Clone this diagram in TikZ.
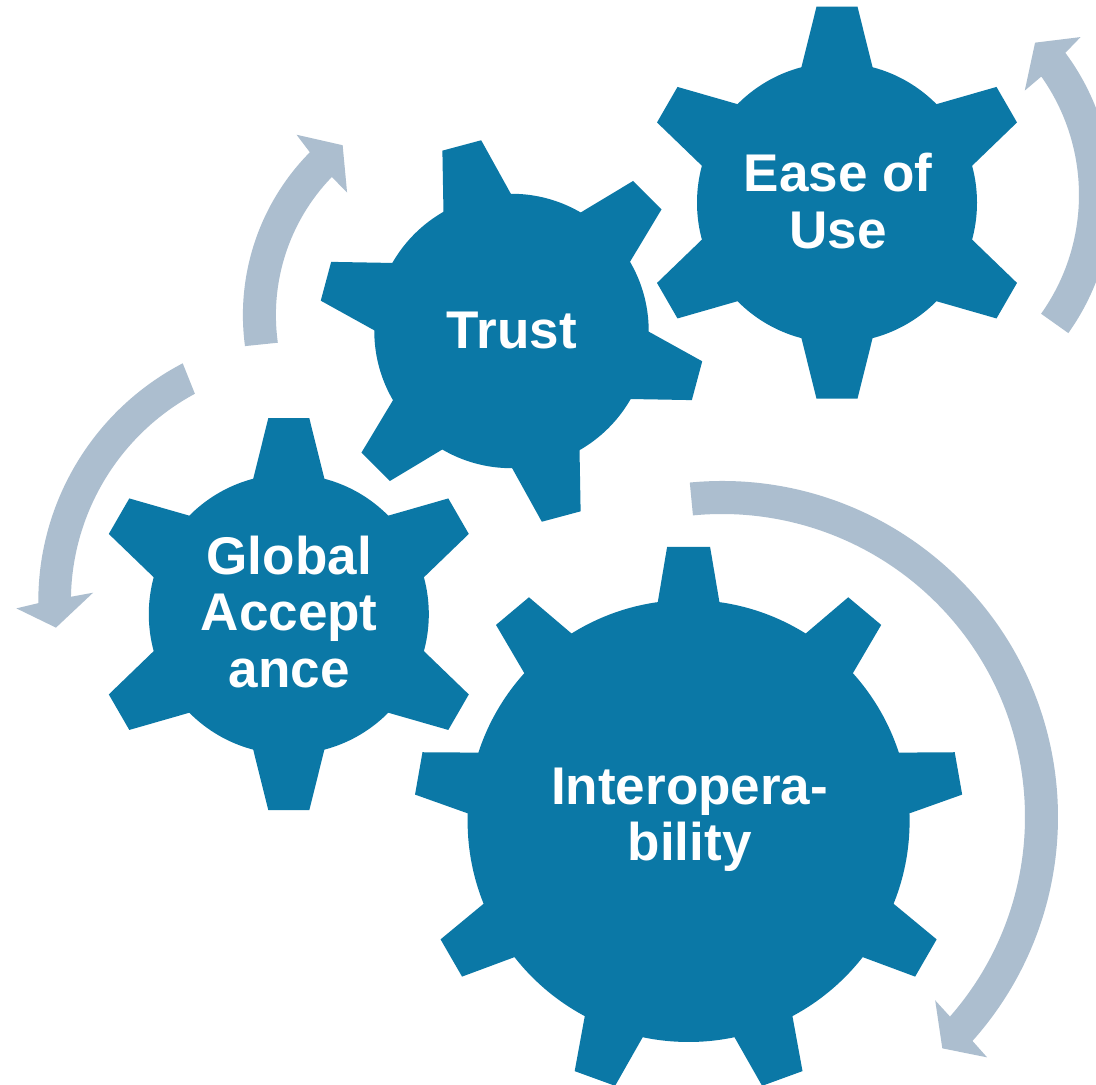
\documentclass[tikz,border=0pt]{standalone}
\usepackage{fontspec}
\setmainfont{Liberation Sans}
\usepackage{tikz}
\usetikzlibrary{calc}
\definecolor{cogblue}{RGB}{11,120,166}
\definecolor{ringgrey}{RGB}{172,190,207}
\tikzset{
  cog/.style={fill=cogblue,draw=none},
  ringarrow/.style={fill=ringgrey,draw=none},
  cogtext/.style={text=white,font=\bfseries\fontsize{30.2}{32.2}\selectfont,
    align=center,anchor=base,inner sep=0pt}
}
\begin{document}
\begin{tikzpicture}[x=0.02cm,y=0.02cm]
    \fill[white] (0,0) rectangle (1096,1085);
    \useasboundingbox (0,0) rectangle (1096,1085);
    \clip (0,0) rectangle (1096,1085);

    % Ease of Use gear
    \begin{scope}[shift={(837,882.3)}]
      \fill[cog] (0,0) circle (140);
      \foreach \a in {30,90,...,330}
        \fill[cog,rotate=\a] (100,-44.4) -- (196,-20.5) -- (196,20.5) -- (100,44.4) -- cycle;
    \end{scope}
    \node[cogtext] (ease) at (838,836.7) {Ease of\\Use};

    % Trust gear
    \begin{scope}[shift={(511.5,754)},scale=0.98]
      \fill[cog] (0,0) circle (140);
      \foreach \a in {45,105,...,345}
        \fill[cog,rotate=\a] (100,-44.4) -- (196,-20.5) -- (196,20.5) -- (100,44.4) -- cycle;
    \end{scope}
    \node[cogtext] (trust) at (511.8,736.7) {Trust};

    % Global Acceptance gear
    \begin{scope}[shift={(288.8,470.8)}]
      \fill[cog] (0,0) circle (140);
      \foreach \a in {30,90,...,330}
        \fill[cog,rotate=\a] (100,-44.4) -- (196,-20.5) -- (196,20.5) -- (100,44.4) -- cycle;
    \end{scope}
    \node[cogtext] (global) at (289.2,397.7) {Global\\Accept\\ance};

    % Interoperability gear
    \begin{scope}[shift={(688.6,264)}]
      \fill[cog] (0,0) circle (221);
      \foreach \a in {10,50,...,330}
        \fill[cog,rotate=\a] (180,-37.4) -- (274,-21.5) -- (274,21.5) -- (180,37.4) -- cycle;
    \end{scope}
    \node[cogtext] (interop) at (689.6,224) {Interopera-\\bility};

    % Arrows round the gears
    \begin{scope}[shift={(874,890)}]
      \fill[ringarrow] (-35.4:238.4) arc[start angle=-35.4,end angle=36.6,radius=238.4]
        -- (37.4:260) -- (43.4:221.7) -- (34.7:183.4)
        -- (35.3:205) arc[start angle=35.3,end angle=-35.4,radius=205] -- cycle;
    \end{scope}
    \begin{scope}[shift={(474.4,769.9)}]
      \fill[ringarrow] (187.7:231.5) arc[start angle=187.7,end angle=135.3,radius=231.5]
        -- (134.6:253.3) -- (127.8:215) -- (136.1:176.7)
        -- (135.9:198.5) arc[start angle=135.9,end angle=188,radius=198.5] -- cycle;
    \end{scope}
    \begin{scope}[shift={(306.6,483.7)}]
      \fill[ringarrow] (117.5:268.3) arc[start angle=117.5,end angle=180.4,radius=268.3]
        -- (181.4:290.3) -- (186:252) -- (177.7:213.7)
        -- (178.9:235.7) arc[start angle=178.9,end angle=118.3,radius=235.7] -- cycle;
    \end{scope}
    \begin{scope}[shift={(722,268)}]
      \fill[ringarrow] (95.5:336) arc[start angle=95.5,end angle=-41.8,radius=336]
        -- (-42.2:357.8) -- (-46.4:319.5) -- (-40.7:281.2)
        -- (-41.2:303) arc[start angle=-41.2,end angle=95.5,radius=303] -- cycle;
    \end{scope}

\end{tikzpicture}
\end{document}
